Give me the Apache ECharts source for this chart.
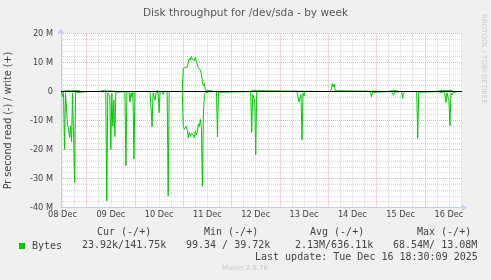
<!DOCTYPE html>
<html><head><meta charset="utf-8">
<script src="https://cdn.jsdelivr.net/npm/echarts@6/dist/echarts.min.js"></script>
<style>html,body{margin:0;padding:0;background:#F0F0F0}#c{width:491px;height:280px}</style>
</head><body><div id="c"></div>
<script>
// ---- data (hours since 08 Dec 00:00, values in MB/s; read negative, write positive) ----
const chartTitle = 'Disk throughput for /dev/sda - by week';
const yAxisName = 'Pr second read (-) / write (+)';
const dayLabels = ['08 Dec','09 Dec','10 Dec','11 Dec','12 Dec','13 Dec','14 Dec','15 Dec','16 Dec'];
const dayLabelHours = [12,36,60,84,108,132,156,180,204];
const xStart = 11.25, xEnd = 210.5;
const yMin = -40, yMax = 20, yStep = 10;

const readData = [
 [11.5,0],[12,-1.8],[12.5,-0.3],[13,-20],[13.5,-0.4],[14,-0.5],[14.5,-11.5],[15,-13],[15.5,-15.8],[16,-12],[16.5,-17.3],[17,-0.5],[17.5,-0.3],[18,-31.3],[18.5,-0.2],[19,0],[20.5,-0.3],[21,0],
 [25,0],[25.5,-0.3],[26,0],
 [33.5,0],[34,-37.8],[34.5,-0.5],[35,-0.3],[35.5,-1.5],[36,-20],[36.5,-0.6],[37,-12],[37.5,-3],[38,-15.6],[38.5,-0.3],[39,0],
 [43,0],[43.5,-25.6],[44,0],[45,0],[45.5,-3.6],[46,-0.5],[46.5,-2],[47,-0.3],[47.5,-23.3],[48,0],
 [55.5,0],[56,-0.3],[56.5,-12.1],[57,-0.5],[57.5,-1],[58,-3],[58.5,-0.5],[59,-1],[59.5,-0.3],[60,-7.3],[60.5,0],[61.5,0],[62,-1],[62.5,0],
 [64,0],[64.5,-36.1],[65,0],[67,0],[67.5,-0.4],[68,0],
 [71.5,0],[72,-12.1],[72.5,-13],[73,-12.5],[73.5,-12],[74,-13.5],[74.5,-16],[75,-14],[75.5,-15.5],[76,-14.5],[76.5,-14],[77,-15],[77.5,-16],[78,-13.5],[78.5,-15],[79,-14],[79.5,-11.2],[80,-12],[80.5,-9.6],[81,-12.5],[81.5,-32.7],[82,-8],[82.5,-1.2],[83,-0.5],[83.5,0],
 [85,0],[85.5,-0.5],[86,0],[88.5,0],[89,-15.6],[89.5,-0.3],[90,0],
 [105.5,0],[106,-14.1],[106.5,-1],[107,-0.5],[107.5,-3],[108,-21.8],[108.5,0],
 [111.5,0],[112,-0.4],[112.5,0],[120.5,0],[121,-0.4],[121.5,0],[124.5,0],[125,-0.5],[125.5,0],
 [128.5,0],[129,-0.5],[129.5,-3.6],[130,-4.1],[130.5,-1],[131,-16.8],[131.5,-0.5],[132,-1.5],[132.5,0],
 [165,0],[165.5,-1.9],[166,-0.3],[166.5,0],
 [174.5,0],[175,-0.4],[175.5,0],[176,-0.3],[176.5,-1.3],[177,-0.2],[177.5,0],
 [180.5,0],[181,-2.4],[181.5,-0.5],[182,-0.8],[182.5,0],
 [188,0],[188.5,-16.1],[189,-0.3],[189.5,0],
 [198.5,0],[199,-0.3],[200,-0.3],[200.5,0],[201.5,0],[202,-0.8],[202.5,-3.8],[203,-0.5],[203.5,-1],[204,-3],[204.5,-11.8],[205,-0.5],[205.5,-1.2],[206,-0.4],[206.5,0],[208.5,0]
];
const writeData = [
 [11.5,0],[12,0.3],[14,0.3],[16,0.2],[18,0.3],[20,0.3],[21,0],
 [30.5,0],[31,0.3],[32,0.3],[33,0.4],[33.5,1],[34,0.2],[34.5,0],
 [40,0],[40.5,0.3],[41,0],
 [53,0],[53.5,0.3],[54,0],[58,0],[58.5,0.3],[59,0.3],[60,0],
 [71.5,0],[72,7.9],[72.5,8.2],[73,8.3],[73.5,8.0],[74,8.4],[74.5,10],[75,11.5],[75.5,10.8],[76,12.1],[76.5,11.2],[77,11.8],[77.5,10.6],[78,11.9],[78.5,10.2],[79,10.8],[79.5,8.3],[80,8.0],[80.5,7.4],[81,6],[81.5,3.5],[82,2],[82.5,2.8],[83,0.5],[83.5,0.3],[84,0.4],[85,0.3],[86,0.3],[87,0],
 [105,0],[105.5,0.3],[107,0.5],[108.5,0.3],[109,0],
 [144.5,0],[145,0.3],[145.5,0.5],[146,2.7],[146.5,1.6],[147,2.6],[147.5,0.3],[148,0],
 [174,0],[174.5,0.3],[176,0.4],[178,0.3],[179,0],
 [198,0],[198.5,0.4],[200,0.4],[202,0.3],[203.5,0.3],[205,0.4],[206.5,0],[208.5,0]
];
const seriesName = 'Bytes';
const statHeaders = ['Cur (-/+)','Min (-/+)','Avg (-/+)','Max (-/+)'];
const statValues = ['23.92k/141.75k','99.34 / 39.72k','2.13M/636.11k','68.54M/ 13.08M'];
const lastUpdate = 'Last update: Tue Dec 16 18:30:09 2025';
const footer = 'Munin 2.0.76';
const watermark = 'RRDTOOL / TOBI OETIKER';

// ---- styling ----
const GREEN = '#00CC00';
const FONT_COLOR = '#444';
const AXIS_COLOR = '#C4CCF4';
const MAJOR = '#F2A6A6';
const MINOR = '#D6D6D6';
const MONO = 'DejaVu Sans Mono';
const SANS = 'DejaVu Sans';

// grid ticks every 6 hours; colours cycle minor, minor, major(midnight), minor starting at 12:00
const gridHours = [];
for (let h = 12; h <= xEnd; h += 6) gridHours.push(h);

const chart = echarts.init(document.getElementById('c'), null, {renderer: 'canvas'});
const headerX = [97, 204, 310, 417];
const valueX = [82, 186, 295, 393];
const graphics = [];
statHeaders.forEach((t, i) => graphics.push({type: 'text', x: headerX[i], y: 232, style: {text: t, font: '10px ' + MONO, fill: FONT_COLOR, textVerticalAlign: 'middle', verticalAlign: 'middle'}}));
statValues.forEach((t, i) => graphics.push({type: 'text', x: valueX[i], y: 245, style: {text: t, font: '10px ' + MONO, fill: FONT_COLOR, textVerticalAlign: 'middle', verticalAlign: 'middle'}}));
graphics.push({type: 'text', x: 255, y: 257, style: {text: lastUpdate, font: '10px ' + MONO, fill: FONT_COLOR, textVerticalAlign: 'middle', verticalAlign: 'middle'}});
graphics.push({type: 'text', x: 245, y: 268, style: {text: footer, font: '7px ' + SANS, fill: '#C8C8C8', textAlign: 'center', align: 'center', textVerticalAlign: 'middle', verticalAlign: 'middle'}});
graphics.push({type: 'text', x: 484, y: 14, rotation: -Math.PI / 2, style: {text: watermark, font: '7px ' + SANS, fill: '#CCCCCC', textAlign: 'left', align: 'left', textVerticalAlign: 'middle', verticalAlign: 'middle'}});

chart.setOption({
  animation: false,
  backgroundColor: '#F0F0F0',
  title: {text: chartTitle, left: 'center', top: 3, textStyle: {fontFamily: SANS, fontSize: 10.5, fontWeight: 'normal', color: '#555'}},
  legend: {data: [seriesName], left: 14, top: 236, icon: 'rect', itemWidth: 6, itemHeight: 6, itemGap: 0,
    textStyle: {fontFamily: MONO, fontSize: 10, color: FONT_COLOR, padding: [0, 0, 0, 2]}},
  grid: {left: 61, right: 29, top: 33.5, height: 174, show: true, backgroundColor: '#FFFFFF', borderWidth: 0, containLabel: false, outerBoundsMode: 'none'},
  xAxis: {type: 'value', min: xStart, max: xEnd,
    axisLine: {onZero: false, lineStyle: {color: AXIS_COLOR, width: 1}, symbol: ['none', 'arrow'], symbolSize: [6, 6], symbolOffset: [0, 5]},
    axisTick: {show: false, customValues: gridHours},
    splitLine: {show: true, lineStyle: {color: [MINOR, MINOR, MAJOR, MINOR], type: [1, 1], width: 1}},
    axisLabel: {customValues: dayLabelHours, formatter: v => dayLabels[dayLabelHours.indexOf(v)] || '', color: FONT_COLOR, fontFamily: SANS, fontSize: 8.2, margin: 3}},
  yAxis: {type: 'value', min: yMin, max: yMax, interval: yStep,
    name: yAxisName, nameLocation: 'middle', nameRotate: 90, nameGap: 48,
    nameTextStyle: {fontFamily: SANS, fontSize: 9.6, color: FONT_COLOR},
    axisLine: {show: true, lineStyle: {color: AXIS_COLOR, width: 1}, symbol: ['none', 'arrow'], symbolSize: [6, 6], symbolOffset: [0, 5]},
    axisTick: {show: false},
    axisLabel: {formatter: v => v === 0 ? '0' : v + ' M', color: FONT_COLOR, fontFamily: SANS, fontSize: 8.2, margin: 8},
    splitLine: {show: true, lineStyle: {color: MAJOR, type: [1, 1], width: 1}},
    minorTick: {show: false, splitNumber: 5},
    minorSplitLine: {show: true, lineStyle: {color: MINOR, type: [1, 1], width: 1}}},
  graphic: graphics,
  series: [
    {type: 'line', name: seriesName, data: readData, z: 3, symbol: 'none', showSymbol: false, color: GREEN, lineStyle: {color: GREEN, width: 1}},
    {type: 'line', name: seriesName, data: writeData, z: 3, symbol: 'none', showSymbol: false, color: GREEN, lineStyle: {color: GREEN, width: 1}},
    {type: 'line', name: '_zero', data: [], z: 5, silent: true,
      markLine: {silent: true, symbol: ['none', 'none'], label: {show: false}, animation: false,
        data: [{yAxis: 0}], lineStyle: {color: '#000000', type: 'solid', width: 1}}}
  ]
});
</script></body></html>
